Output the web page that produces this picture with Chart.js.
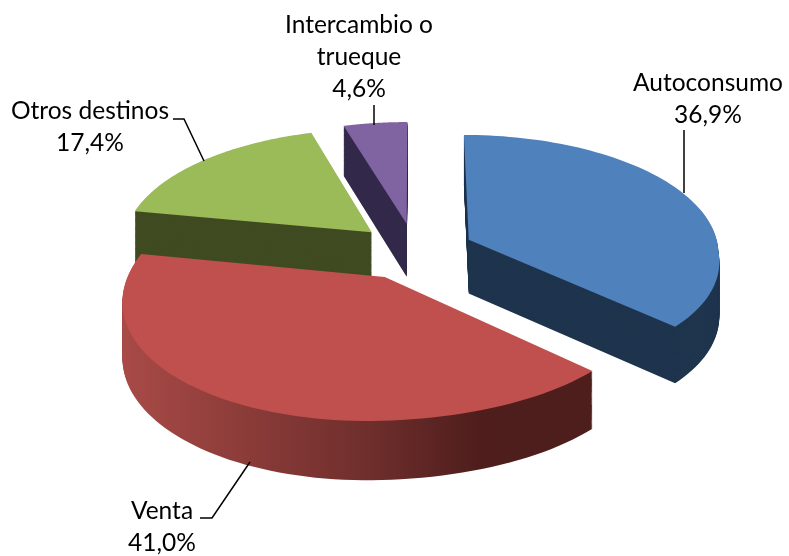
<!DOCTYPE html>
<html>
<head>
<meta charset="utf-8">
<style>
  html, body { margin: 0; padding: 0; background: #fff; }
  canvas { display: block; }
</style>
<script src="https://cdn.jsdelivr.net/npm/chart.js@4"></script>
</head>
<body>
<canvas id="chart-destino" width="789" height="556"></canvas>
<script>
const categories = ['Autoconsumo', 'Venta', 'Otros destinos', 'Intercambio o trueque'];
const labelLines = [['Autoconsumo'], ['Venta'], ['Otros destinos'], ['Intercambio o', 'trueque']];
const shares = [36.9, 41.0, 17.4, 4.6];
const topColors = ['#4F81BD', '#C0504D', '#9BBB59', '#8064A2'];
const wallColors = ['#1F344D', null, '#404B22', '#33294A'];

// label placement: centre x, first baseline
const labelSpots = [[708, 91], [162, 519], [90, 119], [359, 33]];
const leaders = [
  [[684, 130], [684, 193]],
  [[200, 518], [212, 518], [250, 462]],
  [[173, 119], [184, 119], [204, 161]],
  [[374, 105], [374, 125]]
];

// 3D tilt of the pie
const VIEW = { cx: 415, cy: 251, kx: 0.97, ky: 0.465, txBack: 0.1, txLeft: 0.13, txRight: 0.193, ty: 0.12, skew: 0.05, depth: 54 };

function project(dx, dy, R) {
  const u = dy / R;
  const tx = u < 0 ? VIEW.txBack : (dx < 0 ? VIEW.txLeft : VIEW.txRight);
  return {
    x: VIEW.cx + dx * VIEW.kx / (1 - tx * u) - VIEW.skew * Math.max(dy, 0),
    y: VIEW.cy + dy * VIEW.ky / (1 - VIEW.ty * u),
    d: VIEW.depth * Math.pow(1 / (1 - VIEW.ty * u), 0.6)
  };
}

function wedgePoints(arc) {
  const R = arc.outerRadius;
  const mid = (arc.startAngle + arc.endAngle) / 2;
  const off = arc.options.offset / 4;
  const ox = Math.cos(mid) * off;
  const oy = Math.sin(mid) * off;
  const pts = [project(ox, oy, R)];
  const steps = 80;
  for (let i = 0; i <= steps; i++) {
    const a = arc.startAngle + (arc.endAngle - arc.startAngle) * i / steps;
    pts.push(project(ox + Math.cos(a) * R, oy + Math.sin(a) * R, R));
  }
  return pts;
}

function fillWedge(ctx, pts, drop) {
  ctx.beginPath();
  pts.forEach((p, i) => {
    const y = p.y + p.d * drop;
    if (i === 0) ctx.moveTo(p.x, y); else ctx.lineTo(p.x, y);
  });
  ctx.closePath();
  ctx.fill();
}

const pie3d = {
  id: 'pie3d',
  beforeDatasetDraw(chart, args) {
    const ctx = chart.ctx;
    const arcs = args.meta.data;
    // Venta side is shaded left to right
    const shade = ctx.createLinearGradient(124, 0, 590, 0);
    shade.addColorStop(0, '#A84A47');
    shade.addColorStop(0.27, '#8A3B38');
    shade.addColorStop(0.53, '#6E2E2C');
    shade.addColorStop(0.76, '#4F1E1C');
    shade.addColorStop(1, '#4E1E1C');

    [3, 2, 0, 1].forEach((i) => {
      const pts = wedgePoints(arcs[i]);
      ctx.fillStyle = wallColors[i] || shade;
      for (let s = 60; s > 0; s--) fillWedge(ctx, pts, s / 60);
      ctx.fillStyle = topColors[i];
      fillWedge(ctx, pts, 0);
    });
    return false;
  },
  afterDraw(chart) {
    const ctx = chart.ctx;
    ctx.save();
    ctx.strokeStyle = '#000';
    ctx.lineWidth = 1.5;
    leaders.forEach((line) => {
      ctx.beginPath();
      line.forEach((p, i) => (i ? ctx.lineTo(p[0], p[1]) : ctx.moveTo(p[0], p[1])));
      ctx.stroke();
    });
    ctx.fillStyle = '#000';
    ctx.font = '24.5px Lato';
    ctx.textAlign = 'center';
    ctx.textBaseline = 'alphabetic';
    labelLines.forEach((lines, i) => {
      const all = lines.concat(shares[i].toFixed(1).replace('.', ',') + '%');
      all.forEach((txt, k) => ctx.fillText(txt, labelSpots[i][0], labelSpots[i][1] + k * 32));
    });
    ctx.restore();
  }
};

new Chart(document.getElementById('chart-destino'), {
  type: 'pie',
  data: {
    labels: categories,
    datasets: [{
      data: shares,
      backgroundColor: topColors,
      borderWidth: 0,
      offset: 244,
      radius: 258
    }]
  },
  options: {
    responsive: false,
    animation: false,
    rotation: 0,
    plugins: {
      legend: { display: false },
      tooltip: { enabled: false }
    }
  },
  plugins: [pie3d]
});
</script>
</body>
</html>
